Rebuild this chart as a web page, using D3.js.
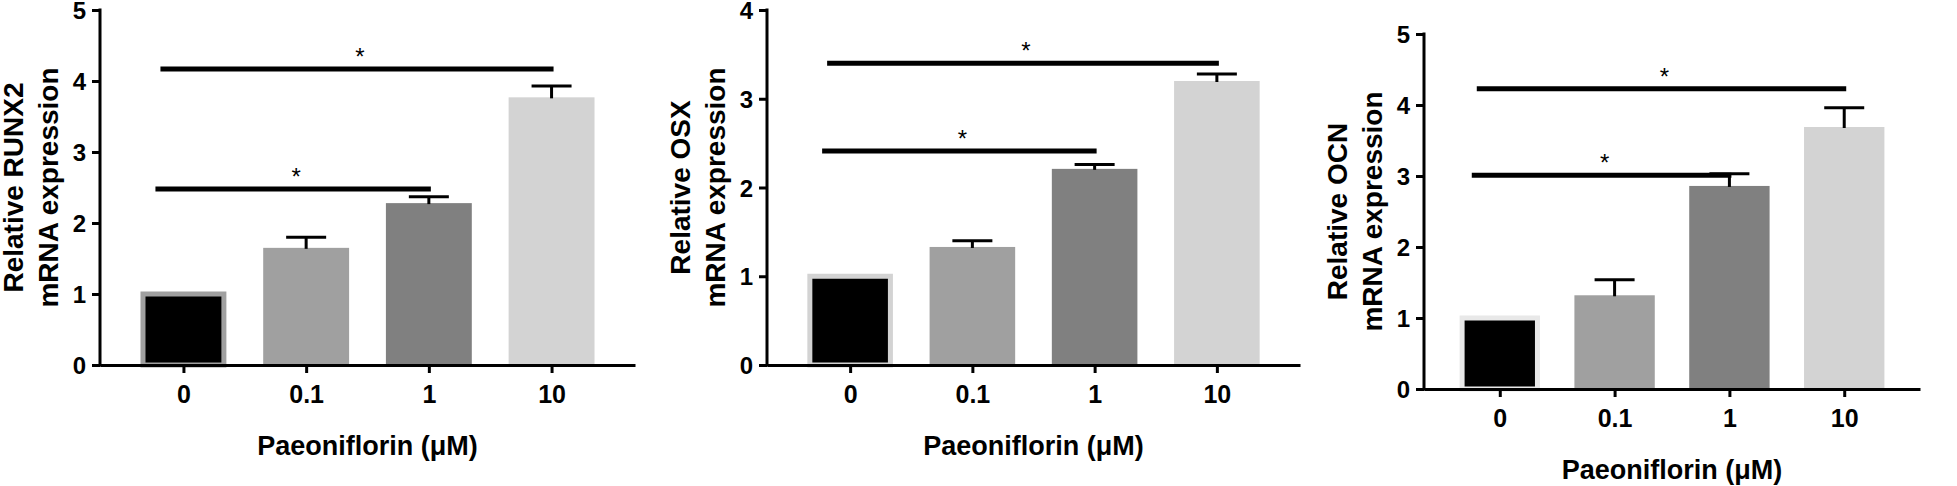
<!DOCTYPE html>
<html>
<head>
<meta charset="utf-8">
<script src="https://cdn.jsdelivr.net/npm/d3@7"></script>
<style>
  html, body { margin: 0; padding: 0; background: #fff; }
  svg { display: block; }
  text { font-family: "Liberation Sans", Arial, sans-serif; }
</style>
</head>
<body>
<svg id="chart" width="1957" height="486"></svg>
<script>
// ---- Data ----
const doses = ["0", "0.1", "1", "10"];
const barColors = ["#000000", "#a0a0a0", "#808080", "#d3d3d3"];
const xTitle = "Paeoniflorin (\u03bcM)";

const runx2Values = [1.00, 1.65, 2.28, 3.77];
const runx2Errors = [0, 0.15, 0.09, 0.16];
const runx2Ticks = [0, 1, 2, 3, 4, 5];
const runx2Sig = [{ from: 0, to: 2, y: 2.48 }, { from: 0, to: 3, y: 4.17 }];

const osxValues = [1.00, 1.33, 2.21, 3.20];
const osxErrors = [0, 0.07, 0.05, 0.08];
const osxTicks = [0, 1, 2, 3, 4];
const osxSig = [{ from: 0, to: 2, y: 2.41 }, { from: 0, to: 3, y: 3.40 }];

const ocnValues = [1.00, 1.32, 2.86, 3.69];
const ocnErrors = [0, 0.22, 0.17, 0.27];
const ocnTicks = [0, 1, 2, 3, 4, 5];
const ocnSig = [{ from: 0, to: 2, y: 3.01 }, { from: 0, to: 3, y: 4.23 }];

// ---- Layout (positions/styles only) ----
const panels = [
  { gene: "RUNX2", values: runx2Values, errors: runx2Errors, ticks: runx2Ticks, sig: runx2Sig,
    ax: 100, axEnd: 635, y0: 365, yTop: 10, pad: 0.68, baseStroke: "#a0a0a0" },
  { gene: "OSX", values: osxValues, errors: osxErrors, ticks: osxTicks, sig: osxSig,
    ax: 767, axEnd: 1300, y0: 365, yTop: 10, pad: 0.68, baseStroke: "#d3d3d3" },
  { gene: "OCN", values: ocnValues, errors: ocnErrors, ticks: ocnTicks, sig: ocnSig,
    ax: 1424, axEnd: 1920, y0: 389, yTop: 34, pad: 0.66, baseStroke: "#e8e8e8" }
];

const svg = d3.select("#chart");

panels.forEach(p => {
  const g = svg.append("g");
  const yMax = p.ticks[p.ticks.length - 1];
  const y = d3.scaleLinear().domain([0, yMax]).range([p.y0, p.yTop]);
  const x = d3.scalePoint().domain(doses).range([p.ax, p.axEnd]).padding(p.pad);
  const bw = x.step() * 0.7;

  // bars
  g.selectAll("rect.bar").data(p.values).enter().append("rect")
    .attr("class", "bar")
    .attr("x", (d, i) => i === 0 ? x(doses[i]) - bw / 2 + 2.5 : x(doses[i]) - bw / 2)
    .attr("width", (d, i) => i === 0 ? bw - 5 : bw)
    .attr("y", d => y(d))
    .attr("height", d => p.y0 - y(d))
    .attr("fill", (d, i) => barColors[i])
    .attr("stroke", (d, i) => i === 0 ? p.baseStroke : "none")
    .attr("stroke-width", 5);

  // error bars
  p.values.forEach((v, i) => {
    const e = p.errors[i];
    if (!e) return;
    const cx = x(doses[i]);
    g.append("line").attr("x1", cx).attr("x2", cx)
      .attr("y1", y(v) + 1).attr("y2", y(v + e))
      .attr("stroke", "#000").attr("stroke-width", 3);
    g.append("line").attr("x1", cx - 20).attr("x2", cx + 20)
      .attr("y1", y(v + e)).attr("y2", y(v + e))
      .attr("stroke", "#000").attr("stroke-width", 3);
  });

  // significance lines
  p.sig.forEach((s, k) => {
    const x1 = x(doses[s.from]) - (k === 0 ? 28 : 23);
    const x2 = x(doses[s.to]) + 2;
    const yy = y(s.y);
    g.append("line").attr("x1", x1).attr("x2", x2).attr("y1", yy).attr("y2", yy)
      .attr("stroke", "#000").attr("stroke-width", 5);
    g.append("text").attr("x", (x1 + x2) / 2 + 3).attr("y", yy - 4)
      .attr("text-anchor", "middle").attr("font-size", 24)
      .attr("fill", "#000").text("*");
  });

  // y axis
  const ya = g.append("g").attr("transform", `translate(${p.ax},0)`)
    .call(d3.axisLeft(y).tickValues(p.ticks).tickFormat(d3.format("d"))
      .tickSize(8).tickSizeOuter(0).tickPadding(6));
  ya.select(".domain").attr("stroke-width", 3).attr("d", `M0,${p.y0 + 1.5}V${p.yTop - 1.5}`);
  ya.selectAll(".tick line").attr("stroke-width", 3);
  ya.selectAll(".tick text").attr("font-size", 24).attr("font-weight", "bold")
    .attr("dy", "0.36em")
    .attr("font-family", '"Liberation Sans", Arial, sans-serif').attr("fill", "#000");

  // x axis
  const xa = g.append("g").attr("transform", `translate(0,${p.y0})`)
    .call(d3.axisBottom(x).tickSize(8).tickSizeOuter(0).tickPadding(12));
  xa.select(".domain").attr("stroke-width", 3);
  xa.selectAll(".tick line").attr("stroke-width", 3);
  xa.selectAll(".tick text").attr("font-size", 25).attr("font-weight", "bold")
    .attr("font-family", '"Liberation Sans", Arial, sans-serif').attr("fill", "#000");

  // x title
  const xMid = (x(doses[0]) + x(doses[doses.length - 1])) / 2;
  g.append("text").attr("x", xMid).attr("y", p.y0 + 90)
    .attr("text-anchor", "middle").attr("font-size", 27).attr("font-weight", "bold")
    .text(xTitle);

  // y title (two lines, rotated)
  const yMid = (p.y0 + p.yTop) / 2;
  g.append("text").attr("transform", `translate(${p.ax - 77},${yMid}) rotate(-90)`)
    .attr("text-anchor", "middle").attr("font-size", 28).attr("font-weight", "bold")
    .text("Relative " + p.gene);
  g.append("text").attr("transform", `translate(${p.ax - 42},${yMid}) rotate(-90)`)
    .attr("text-anchor", "middle").attr("font-size", 28).attr("font-weight", "bold")
    .text("mRNA expression");
});
</script>
</body>
</html>
